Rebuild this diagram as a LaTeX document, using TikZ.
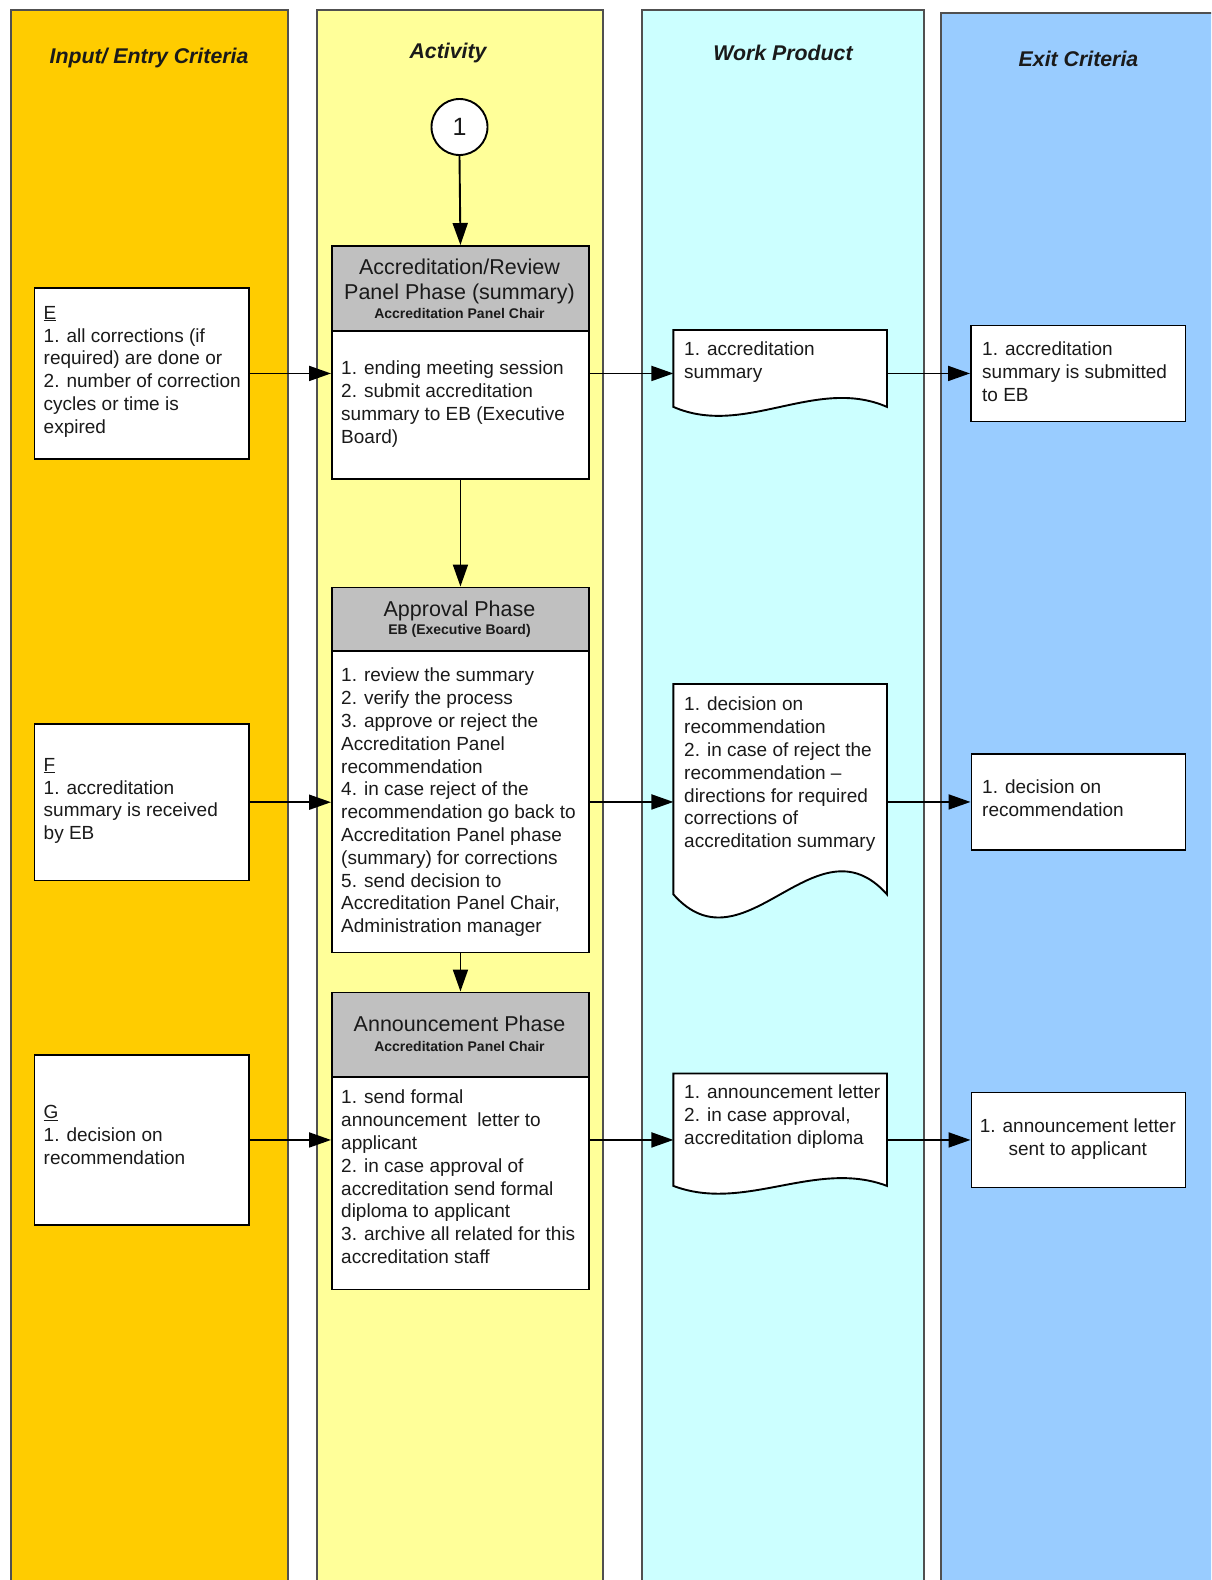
\documentclass[tikz,border=0pt]{standalone}
\usepackage{fontspec}
\setmainfont{Liberation Sans}
\usetikzlibrary{arrows.meta,calc}
\definecolor{laneA}{HTML}{FFCC00}
\definecolor{laneB}{HTML}{FFFF99}
\definecolor{laneC}{HTML}{CCFFFF}
\definecolor{laneD}{HTML}{99CCFF}
\definecolor{hdrgray}{HTML}{C0C0C0}
\definecolor{lanebd}{HTML}{505050}
\definecolor{txt}{HTML}{1A1A1A}
\begin{document}
\begin{tikzpicture}[x=1pt,y=-1pt,
  lane/.style={draw=lanebd,line width=2pt},
  box/.style={draw=black,line width=1.9pt,fill=white,rectangle,inner sep=0pt,anchor=north west},
  hdr/.style={draw=black,line width=1.9pt,fill=hdrgray,rectangle,inner sep=0pt,anchor=north west},
  docarea/.style={rectangle,inner sep=0pt,anchor=north west},
  docshape/.style={draw=black,line width=1.9pt,fill=white},
  body/.style={font=\fontsize{19}{22.8}\selectfont,text=txt,align=left,inner sep=0pt,anchor=north west},
  ttl/.style={font=\fontsize{21.5}{25.5}\selectfont,text=txt,align=center,inner sep=0pt},
  subttl/.style={font=\bfseries\fontsize{14}{16}\selectfont,text=txt,inner sep=0pt},
  lanetitle/.style={font=\bfseries\itshape\fontsize{21.3}{25}\selectfont,text=txt,inner sep=0pt},
  arr/.style={line width=1.9pt,-{Triangle[length=22pt,width=15pt]}},
]
\clip (0,0) rectangle (1211,1580);
\fill[white] (0,0) rectangle (1211,1580);
% lanes
\draw[lane,fill=laneA] (10.5,1600) -- (10.5,10) -- (288,10) -- (288,1600);
\draw[lane,fill=laneB] (316.5,1600) -- (316.5,10) -- (603,10) -- (603,1600);
\draw[lane,fill=laneC] (642,1600) -- (642,10) -- (923.5,10) -- (923.5,1600);
\draw[lane,fill=laneD] (940.5,1600) -- (940.5,13) -- (1230,13) -- (1230,1600);
\node[lanetitle] (h1) at (149,58) {Input/ Entry Criteria};
\node[lanetitle] (h2) at (448,53) {Activity};
\node[lanetitle] (h3) at (783,53) {Work Product};
\node[lanetitle] (h4) at (1078.5,59) {Exit Criteria};

% start circle
\node[circle,draw=black,line width=1.9pt,fill=white,minimum size=56pt,inner sep=0pt,
      font=\fontsize{25}{30}\selectfont,text=txt] (c1) at (459.5,127) {1};

% activity boxes
\node[box,minimum width=257pt,minimum height=233pt] (ap1) at (331,245) {};
\node[hdr,minimum width=257pt,minimum height=85pt] (ap1h) at (331,245) {};
\node[box,minimum width=257pt,minimum height=365pt] (ap2) at (331,586.5) {};
\node[hdr,minimum width=257pt,minimum height=63.5pt] (ap2h) at (331,586.5) {};
\node[box,minimum width=257pt,minimum height=297pt] (ap3) at (331,991.5) {};
\node[hdr,minimum width=257pt,minimum height=84.5pt] (ap3h) at (331,991.5) {};

\node[ttl] (ap1t) at (459.5,281.5) {Accreditation/Review\\Panel Phase (summary)};
\node[subttl] (ap1s) at (459.5,313) {Accreditation Panel Chair};
\node[ttl] (ap2t) at (459.5,611) {Approval Phase};
\node[subttl] (ap2s) at (459.5,631) {EB (Executive Board)};
\node[ttl] (ap3t) at (459.5,1024) {Announcement Phase};
\node[subttl] (ap3s) at (459.5,1046) {Accreditation Panel Chair};

\node[body] (ap1b) at (341,361) {1. ending meeting session\\2. submit accreditation\\summary to EB (Executive\\Board)};
\node[body] (ap2b) at (341,668) {1. review the summary\\2. verify the process\\3. approve or reject the\\Accreditation Panel\\recommendation\\4. in case reject of the\\recommendation go back to\\Accreditation Panel phase\\(summary) for corrections\\5. send decision to\\Accreditation Panel Chair,\\Administration manager};
\node[body] (ap3b) at (341,1090) {1. send formal\\announcement\ \ letter to\\applicant\\2. in case approval of\\accreditation send formal\\diploma to applicant\\3. archive all related for this\\accreditation staff};

% input boxes
\node[box,minimum width=214.5pt,minimum height=171pt] (E) at (33.5,287) {};
\node[box,minimum width=214.5pt,minimum height=156.5pt] (F) at (33.5,723) {};
\node[box,minimum width=214.5pt,minimum height=170pt] (G) at (33.5,1054) {};
\node[body] (Et) at (43.5,306) {\underline{E}\\1. all corrections (if\\required) are done or\\2. number of correction\\cycles or time is\\expired};
\node[body] (Ft) at (43.5,758) {\underline{F}\\1. accreditation\\summary is received\\by EB};
\node[body] (Gt) at (43.5,1105) {\underline{G}\\1. decision on\\recommendation};

% exit boxes
\node[box,minimum width=214.5pt,minimum height=96pt] (ex1) at (970,324.5) {};
\node[box,minimum width=214pt,minimum height=96pt] (ex2) at (970.5,753) {};
\node[box,minimum width=214pt,minimum height=95pt] (ex3) at (970.5,1091.5) {};
\node[body] (ex1t) at (982,342) {1. accreditation\\summary is submitted\\to EB};
\node[body] (ex2t) at (982,780) {1. decision on\\recommendation};
\node[body,align=center,anchor=north] (ex3t) at (1077.8,1119) {1. announcement letter\\sent to applicant};

% documents
\node[docarea,minimum width=213.2pt,minimum height=76.5pt] (d1) at (673.4,330) {};
\node[docarea,minimum width=213.2pt,minimum height=210pt] (d2) at (673.4,684) {};
\node[docarea,minimum width=213.2pt,minimum height=112pt] (d3) at (673.4,1073.5) {};
\draw[docshape] (d1.south west) -- (d1.north west) -- (d1.north east) -- (d1.south east)
  .. controls ($(d1.south west)!0.667!(d1.south east)+(0,-31)$) and ($(d1.south west)!0.333!(d1.south east)+(0,31)$) .. (d1.south west) -- cycle;
\draw[docshape] (d2.south west) -- (d2.north west) -- (d2.north east) -- (d2.south east)
  .. controls ($(d2.south west)!0.667!(d2.south east)+(0,-80)$) and ($(d2.south west)!0.333!(d2.south east)+(0,80)$) .. (d2.south west) -- cycle;
\draw[docshape] (d3.south west) -- (d3.north west) -- (d3.north east) -- (d3.south east)
  .. controls ($(d3.south west)!0.667!(d3.south east)+(0,-27)$) and ($(d3.south west)!0.333!(d3.south east)+(0,27)$) .. (d3.south west) -- cycle;
\node[body] (d1t) at (684,342) {1. accreditation\\summary};
\node[body] (d2t) at (684,697) {1. decision on\\recommendation\\2. in case of reject the\\recommendation –\\directions for required\\corrections of\\accreditation summary};
\node[body] (d3t) at (684,1085) {1. announcement letter\\2. in case approval,\\accreditation diploma};

% connectors
\draw[arr] (c1.south) -- (ap1.north);
\draw[arr] (ap1.south) -- (ap2.north);
\draw[arr] (ap2.south) -- (ap3.north);
\draw[arr] (E.east) -- (E.east -| ap1.west);
\draw[arr] (ap1.east |- ex1.west) -- (d1.west |- ex1.west);
\draw[arr] (d1.east |- ex1.west) -- (ex1.west);
\draw[arr] (F.east) -- (F.east -| ap2.west);
\draw[arr] (ap2.east |- ex2.west) -- (d2.west |- ex2.west);
\draw[arr] (d2.east |- ex2.west) -- (ex2.west);
\draw[arr] (G.east) -- (G.east -| ap3.west);
\draw[arr] (ap3.east |- ex3.west) -- (d3.west |- ex3.west);
\draw[arr] (d3.east |- ex3.west) -- (ex3.west);
\end{tikzpicture}
\end{document}
